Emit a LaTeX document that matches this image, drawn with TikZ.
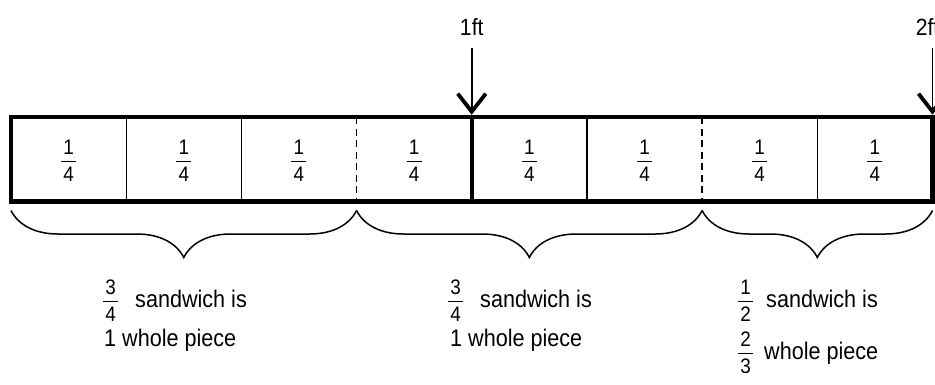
\documentclass[tikz,border=0pt]{standalone}
\usepackage{fontspec}
\setmainfont{Liberation Sans}[FakeStretch=0.9]
\usetikzlibrary{calc,arrows.meta,decorations.pathreplacing}

% stacked fraction with a thin bar
\newcommand{\fr}[2]{\ensuremath{\vcenter{\offinterlineskip\fontsize{21}{24}\selectfont
  \halign{\hfil##\hfil\cr\hbox to 15pt{}\cr #1\cr
  \noalign{\kern 6.5pt\hrule height 0.9pt\kern 5pt}#2\cr}}}}

\begin{document}
\begin{tikzpicture}[x=1pt,y=-1pt,
  cell/.style={font=\fontsize{21}{24}\selectfont, inner sep=0pt},
  note/.style={font=\fontsize{24}{28}\selectfont, anchor=base west, inner sep=0pt},
  ftlabel/.style={font=\fontsize{23.5}{27}\selectfont, anchor=base, inner sep=2pt},
  ptr/.style={line width=1.5pt, shorten <=11pt, -{Straight Barb[length=18pt,width=28pt,line width=3.8pt]}},
  brc/.style={decorate, decoration={brace, amplitude=47pt}, line width=1.5pt}]
  \useasboundingbox (0,0) rectangle (935,384);

  % the bar of eight quarters
  \node[draw, line width=4.5pt, outer sep=0pt, inner sep=0pt,
        minimum width=921.5pt, minimum height=84.5pt] (bar) at (471.75,159.25) {};
  \foreach \i in {1,...,8}
    \node[cell, yshift=-1.5pt] (c\i) at ($(bar.west)!{(\i-0.5)/8}!(bar.east)$) {\fr{1}{4}};
  \foreach \k in {1,2,5,7}
    \draw[line width=1.2pt] ($(bar.north west)!\k/8!(bar.north east)$) -- ($(bar.south west)!\k/8!(bar.south east)$);
  \foreach \k in {3,6}
    \draw[line width=1.6pt, dash pattern=on 7pt off 4.5pt] ($(bar.north west)!\k/8!(bar.north east)$) -- ($(bar.south west)!\k/8!(bar.south east)$);
  \draw[line width=4.5pt] ($(bar.north west)!.5!(bar.north east)$) -- ($(bar.south west)!.5!(bar.south east)$);

  % foot marks
  \coordinate (ft1) at ($(bar.north west)!.5!(bar.north east)$);
  \coordinate (ft2) at (bar.north east);
  \node[ftlabel] (l1) at ($(ft1)+(0,-82)$) {1ft};
  \node[ftlabel, xshift=-5pt] (l2) at ($(ft2)+(0,-82)$) {2ft};
  \draw[ptr] (l1.south) -- ([yshift=2.25pt]ft1);
  \draw[ptr] ([xshift=5pt]l2.south) -- ([yshift=2.25pt]ft2);

  % braces
  \foreach \k in {0,3,6,8}
    \coordinate[yshift=-9pt] (b\k) at ($(bar.south west)!\k/8!(bar.south east)$);
  \draw[brc] (b3) -- (b0);
  \draw[brc] (b6) -- (b3);
  \draw[brc] (b8) -- (b6);

  % what each part makes
  \node[note] (s1) at (103,307) {\fr{3}{4}\hskip 17pt sandwich is};
  \node[note] (w1) at (104,346) {1 whole piece};
  \node[note] (s2) at (448,307) {\fr{3}{4}\hskip 17pt sandwich is};
  \node[note] (w2) at (450,346) {1 whole piece};
  \node[note] (s3) at (738,307) {\fr{1}{2}\hskip 13pt sandwich is};
  \node[note] (w3) at (738,359) {\fr{2}{3}\hskip 11pt whole piece};
\end{tikzpicture}
\end{document}
